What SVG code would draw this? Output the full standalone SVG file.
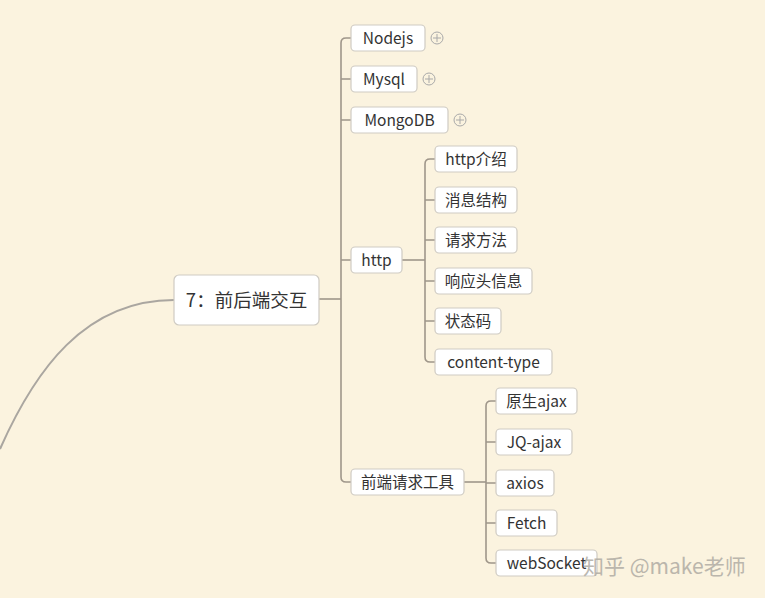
<svg xmlns="http://www.w3.org/2000/svg" width="765" height="598" viewBox="0 0 765 598">
<style>
.bg{fill:#fbf3df}
.box{fill:#ffffff;stroke:#cfcbc3;stroke-width:1.2}
.t{font-family:"Noto Sans CJK SC","Microsoft YaHei",sans-serif;font-size:15.5px;fill:#333333}
.tm{font-family:"Noto Sans CJK SC","Microsoft YaHei",sans-serif;font-size:18.5px;fill:#333333}
.c{fill:none;stroke:#9f968a;stroke-width:1.6}
.cl{fill:none;stroke:#aaa6a0;stroke-width:2}
.plus{fill:none;stroke:#a9a9a9;stroke-width:1}
.wm{font-family:"Noto Sans CJK SC",sans-serif;font-size:21px;fill:#b0aca4;opacity:0.85}
</style>
<rect class="bg" x="0" y="0" width="765" height="598"/>
<g id="connectors">
<path class="cl" d="M0,449 C35,370 85,300 174,300"/>
<path class="c" d="M319,299 H341"/>
<path class="c" d="M351,38 H346 Q341,38 341,43 V477 Q341,482 346,482 H351"/>
<path class="c" d="M341,79 H351 M341,120 H351 M341,260 H351"/>
<path class="c" d="M402,260 H425"/>
<path class="c" d="M435,159 H430 Q425,159 425,164 V357 Q425,362 430,362 H435"/>
<path class="c" d="M425,200 H435 M425,240 H435 M425,281 H435 M425,321 H435"/>
<path class="c" d="M464,482 H486"/>
<path class="c" d="M496,401 H491 Q486,401 486,406 V558 Q486,563 491,563 H496"/>
<path class="c" d="M486,442 H496 M486,483 H496 M486,523 H496"/>
</g>
<g id="main"><rect class="box" x="174" y="275" width="145" height="50" rx="5"/><text class="tm" x="246.5" y="306.5" text-anchor="middle">7：前后端交互</text></g>
<g id="nodejs"><rect class="box" x="351" y="25" width="74" height="26" rx="4"/><text class="t" x="388" y="43.5" text-anchor="middle">Nodejs</text>
<circle class="plus" cx="437" cy="38" r="6"/><path class="plus" d="M433,38 H441 M437,34 V42"/></g>
<g id="mysql"><rect class="box" x="351" y="66" width="66" height="26" rx="4"/><text class="t" x="384" y="84.5" text-anchor="middle">Mysql</text>
<circle class="plus" cx="429" cy="79" r="6"/><path class="plus" d="M425,79 H433 M429,75 V83"/></g>
<g id="mongodb"><rect class="box" x="351" y="107" width="97" height="26" rx="4"/><text class="t" x="399.5" y="125.5" text-anchor="middle">MongoDB</text>
<circle class="plus" cx="460" cy="120" r="6"/><path class="plus" d="M456,120 H464 M460,116 V124"/></g>
<g id="http"><rect class="box" x="351" y="247" width="51" height="26" rx="4"/><text class="t" x="376.5" y="265.5" text-anchor="middle">http</text></g>
<g id="http-intro"><rect class="box" x="435" y="146" width="82" height="26" rx="4"/><text class="t" x="476" y="164.5" text-anchor="middle">http介绍</text></g>
<g id="msg"><rect class="box" x="435" y="187" width="82" height="26" rx="4"/><text class="t" x="476" y="205.5" text-anchor="middle">消息结构</text></g>
<g id="method"><rect class="box" x="435" y="227" width="82" height="26" rx="4"/><text class="t" x="476" y="245.5" text-anchor="middle">请求方法</text></g>
<g id="header"><rect class="box" x="435" y="268" width="97" height="26" rx="4"/><text class="t" x="483.5" y="286.5" text-anchor="middle">响应头信息</text></g>
<g id="status"><rect class="box" x="435" y="308" width="66" height="26" rx="4"/><text class="t" x="468" y="326.5" text-anchor="middle">状态码</text></g>
<g id="ctype"><rect class="box" x="435" y="349" width="117" height="26" rx="4"/><text class="t" x="493.5" y="367.5" text-anchor="middle">content-type</text></g>
<g id="tools"><rect class="box" x="351" y="469" width="113" height="26" rx="4"/><text class="t" x="407.5" y="487.5" text-anchor="middle">前端请求工具</text></g>
<g id="ajax"><rect class="box" x="496" y="388" width="81" height="26" rx="4"/><text class="t" x="536.5" y="406.5" text-anchor="middle">原生ajax</text></g>
<g id="jq"><rect class="box" x="496" y="429" width="76" height="26" rx="4"/><text class="t" x="534" y="447.5" text-anchor="middle">JQ-ajax</text></g>
<g id="axios"><rect class="box" x="496" y="470" width="58" height="26" rx="4"/><text class="t" x="525" y="488.5" text-anchor="middle">axios</text></g>
<g id="fetch"><rect class="box" x="496" y="510" width="61" height="26" rx="4"/><text class="t" x="526.5" y="528.5" text-anchor="middle">Fetch</text></g>
<g id="websocket"><rect class="box" x="496" y="550" width="101" height="26" rx="4"/><text class="t" x="546.5" y="568.5" text-anchor="middle">webSocket</text></g>
<text class="wm" x="583" y="574">知乎 @make老师</text>
</svg>
